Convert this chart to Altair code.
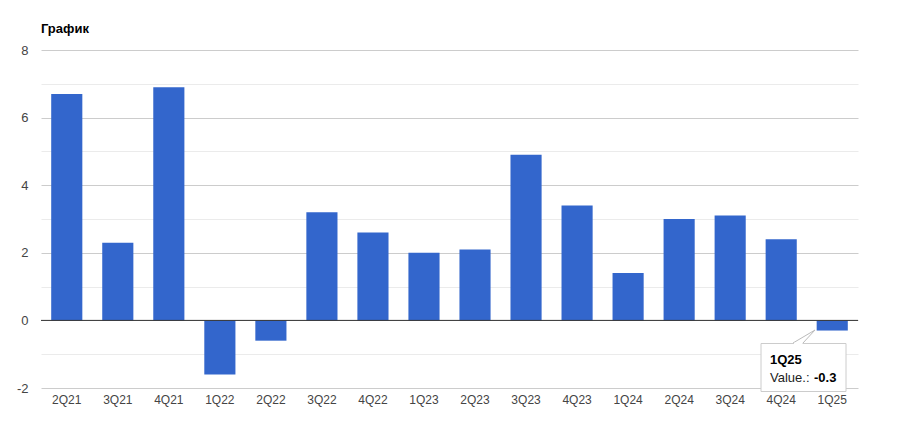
import altair as alt
import pandas as pd

quarters = ["2Q21", "3Q21", "4Q21", "1Q22", "2Q22", "3Q22", "4Q22", "1Q23",
            "2Q23", "3Q23", "4Q23", "1Q24", "2Q24", "3Q24", "4Q24", "1Q25"]
values = [6.7, 2.3, 6.9, -1.6, -0.6, 3.2, 2.6, 2.0,
          2.1, 4.9, 3.4, 1.4, 3.0, 3.1, 2.4, -0.3]
y_ticks = [-2, -1, 0, 1, 2, 3, 4, 5, 6, 7, 8]
title_text = "График"
tip_label = "Value.:"

df = pd.DataFrame({"q": quarters, "v": values})

W, H = 817, 338
FONT = "Liberation Sans"
yscale = alt.Scale(domain=[-2, 8], nice=False, zero=False)
yaxis = alt.Axis(values=y_ticks, ticks=False, domain=False,
                 labelExpr="datum.value % 2 === 0 ? '' + datum.value : ''",
                 labelFont=FONT, labelFontSize=13, labelColor="#444444",
                 labelPadding=13,
                 gridColor=alt.condition("datum.value % 2 === 0",
                                         alt.value("#cccccc"),
                                         alt.value("#ebebeb")),
                 gridWidth=1)

x_enc = alt.X("q:N", sort=quarters, title=None,
              scale=alt.Scale(paddingInner=0.39, paddingOuter=0.2),
              axis=alt.Axis(labelAngle=0, ticks=False, domain=False, grid=False,
                            labelFont=FONT, labelFontSize=12, labelColor="#444444",
                            labelPadding=6))
y_enc = alt.Y("v:Q", title=None, scale=yscale, axis=yaxis)

bars = alt.Chart(df).mark_bar(color="#3366cc").encode(x=x_enc, y=y_enc)

zero_df = pd.DataFrame({"v": [0]})
zero = alt.Chart(zero_df).mark_rule(color="#333333", strokeWidth=1).encode(
    y=alt.Y("v:Q", title=None, scale=yscale, axis=yaxis))

last = df.iloc[[-1]].copy()
last["lab"] = tip_label
last["vs"] = last["v"].map(lambda v: f"{v:.1f}")

# tooltip callout
ptr1 = alt.Chart(last).mark_rule(color="#bbbbbb", strokeWidth=1).encode(
    x=alt.value(752), y=alt.value(293), x2=alt.value(774), y2=alt.value(280))
ptr2 = alt.Chart(last).mark_rule(color="#bbbbbb", strokeWidth=1).encode(
    x=alt.value(762), y=alt.value(293), x2=alt.value(774), y2=alt.value(280))
box = alt.Chart(last).mark_rect(fill="white", stroke="#cccccc", strokeWidth=1).encode(
    x=alt.value(720), x2=alt.value(805), y=alt.value(293.5), y2=alt.value(341.5))
gap = alt.Chart(last).mark_rule(color="white", strokeWidth=1.5).encode(
    x=alt.value(753), x2=alt.value(761.5), y=alt.value(293.5))
t1 = alt.Chart(last).mark_text(align="left", baseline="middle", font=FONT, fontSize=13,
                               fontWeight="bold", color="#000000").encode(
    x=alt.value(729), y=alt.value(310), text="q:N")
t2 = alt.Chart(last).mark_text(align="left", baseline="middle", font=FONT, fontSize=13,
                               color="#222222").encode(
    x=alt.value(729), y=alt.value(328), text="lab:N")
t3 = alt.Chart(last).mark_text(align="left", baseline="middle", font=FONT, fontSize=13,
                               fontWeight="bold", color="#000000").encode(
    x=alt.value(773), y=alt.value(328), text="vs:N")

chart = alt.layer(bars, zero, ptr1, ptr2, box, gap, t1, t2, t3).properties(
    width=W, height=H,
    title=alt.TitleParams(title_text, anchor="start", frame="group", font=FONT,
                          fontSize=13, fontWeight="bold", color="#000000", offset=8),
    autosize=alt.AutoSizeParams(type="none"),
    padding={"left": 33, "top": 42, "right": 30, "bottom": 38},
    background="white",
).configure_view(stroke=None)

chart.save("out.html", embed_options={"renderer": "svg", "actions": False})
